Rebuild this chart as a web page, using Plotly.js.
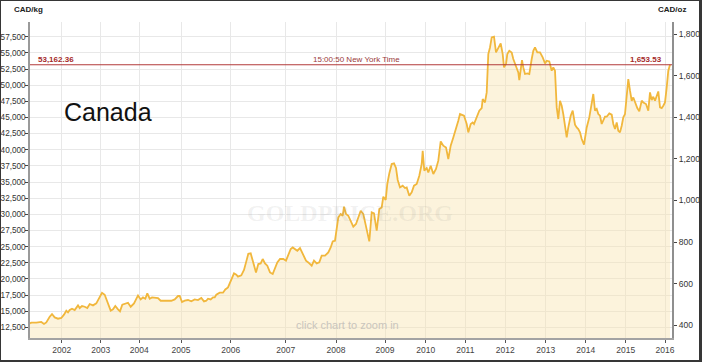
<!DOCTYPE html>
<html>
<head>
<meta charset="utf-8">
<script src="https://cdn.plot.ly/plotly-3.0.1.min.js"></script>
<style>
  html, body { margin:0; padding:0; background:#fff; }
  #wrap { position:relative; width:702px; height:362px; overflow:hidden; }
  #chart { width:702px; height:362px; }
  #frame { position:absolute; left:0; top:0; width:702px; height:362px; box-sizing:border-box;
           border-style:solid; border-color:#363636; border-width:1px 3px 2px 1px; pointer-events:none; }
</style>
</head>
<body>
<div id="wrap"><div id="chart"></div><div id="frame"></div></div>
<script>
// ---- Data ----
// Ordinal position along the chart's ordinal time axis (Highstock-style) and gold price, CAD per kg
const ordinalPos = [0,1.3,6.3,11.3,14,16.3,19.7,22,24.7,28,31.3,34,36.3,38,39.7,42,44.7,48,49.7,52,54.7,57.3,59.7,63,66.3,69.7,72,74.7,77.3,80.7,83,85.3,88,90,92.3,95.3,98,100.7,104,108,110.7,113,115.3,117.3,119.7,122,124.7,128,130.7,134.7,138,141.3,144.7,148,149.7,152,154.7,158,161.3,164.7,168,171.3,174,176.3,178,180.7,183,184.7,186.3,189.7,193,195.3,198,201.3,204,206.3,208,211.3,214,216.3,218.3,220.7,223.3,226,228.3,230.7,232.7,235,237.3,240,242.7,245,247.3,250,253.3,256,258.3,260.7,262.7,265,267.3,270,272.7,276,278.3,281.7,284,286.7,289.3,291.7,295,298.3,300.7,302.7,305,306.7,308.3,310.7,312.7,314,316,318.3,320.7,323.3,326,328.3,330.7,333.3,336,339.3,341.7,344,346.7,349.3,351.7,353.3,355.7,357.3,359.3,361.7,364,366,367.7,370,372.7,375,376.7,379.3,381.7,384,386.7,389.3,391.7,392.7,394.3,396.7,398.3,400.7,403.3,406,408.3,410.7,413.3,416,418.3,420.7,423.3,426,428.3,430,431.7,434,436.7,438.3,440.7,442.7,444,446.7,449.3,451.7,452.7,455,456.7,458.3,460,461.7,464,466,468.3,470.7,472.7,474,476,477.3,479.3,481.7,483.3,486,488.3,489.3,490.7,492,493.3,495,497.3,499.3,501.7,503.3,505,507.3,510,512.7,515,516.7,519.3,521.7,523.3,525,526.7,528.3,530,531.7,533.3,535,536.7,538.3,540.7,542.7,545,546.7,548.3,550,551.7,554,555,556.7,559.3,561.7,563.3,565,566.7,568.3,570,571.7,573.3,575,576.7,579.3,581.7,583.3,585,586.7,588.3,590,591.7,593.3,595,596.7,598.3,600,601.7,603.3,605,607.3,609.3,611.7,613.3,616,618.3,620,621.7,623.3,625,626.7,628.3,630,631.7,633.3,635,636.7,638.3,640];
const cadPerKg = [13120,13230,13230,13340,13030,13270,14160,14570,14050,13850,13960,14470,15090,14820,15190,15400,15190,15910,15500,15810,15700,15500,16120,15910,16220,17140,17870,17560,16530,15090,15290,15810,15290,14980,16010,16220,16320,15700,16220,17450,16830,17140,16940,17760,16940,17140,17140,17050,16630,16630,16740,16630,16830,17360,17360,16430,16630,16740,16530,16830,16740,17050,16530,16630,16940,16830,17140,17140,17560,17870,17870,18380,18690,19930,20860,20660,20350,20550,21390,22720,23900,23960,22560,21010,22310,22410,23090,22410,22050,21010,20770,21540,22560,23090,23090,22830,23860,24640,24880,24640,24370,24790,23860,22830,22560,22050,22830,22410,22560,23600,23600,24110,24880,25810,25920,27980,29530,30050,29790,31180,30050,29790,29020,28090,28510,29530,30570,30050,27980,25810,30300,30150,27470,30830,31080,32730,32220,34700,36340,37790,37890,37180,35320,34170,34440,34080,34170,32890,33400,34440,34700,35980,37790,39850,36760,37180,36490,37530,36250,37020,38310,41290,40630,40360,38570,40630,41910,43210,44500,45530,45430,45270,43990,42690,43990,44230,43990,45010,46050,46460,47860,47330,48880,54820,55840,57390,57500,55070,55840,56460,54820,52750,53270,54820,55330,55070,54050,53010,51970,50800,52750,53890,52750,51730,51820,51730,54050,55330,55840,55070,55070,54300,53370,53790,53680,52240,52750,52240,46560,44760,47590,46820,45530,43990,41910,43460,45270,46050,43880,43460,43210,42690,41660,40780,41910,43460,45010,47330,48630,46050,46310,45530,45270,43990,44500,45120,45120,45630,45430,43990,43210,44230,42950,42690,43720,45010,45530,48100,50950,49140,47590,48100,47330,46460,45940,47590,47330,47080,46050,48880,47700,48210,47590,48370,49030,46560,46460,46820,47330,49650,52240,53162.36];
const yearLabels = ['2002','2003','2004','2005','2006','2007','2008','2009','2010','2011','2012','2013','2014','2015','2016'];
const yearTickOrdinal = [31.7,70.7,109.3,151,200.7,255.7,306,355,395.7,435.3,475.3,515.7,555.7,595.7,635];
const kgTickValues = [12500,15000,17500,20000,22500,25000,27500,30000,32500,35000,37500,40000,42500,45000,47500,50000,52500,55000,57500];
const OZ_PER_KG = 32.1507466;
const country = 'Canada';
const timeText = '15:00:50 New York Time';

// ---- Derived ----
const lastKg = cadPerKg[cadPerKg.length - 1];
const lastOz = lastKg / OZ_PER_KG;
const cadPerOz = cadPerKg.map(v => v / OZ_PER_KG);
const fmt2 = v => v.toLocaleString('en-US', {minimumFractionDigits:2, maximumFractionDigits:2});

const yRange = [10860, 59780];
const FONT = 'Liberation Sans, Arial, sans-serif';
const gridC = '#e8e8e8';

const traces = [
  {
    x: ordinalPos, y: cadPerKg, type: 'scatter', mode: 'lines',
    line: {color: '#f1b73c', width: 1.8, shape: 'linear'},
    fill: 'tozeroy', fillcolor: 'rgba(247,226,172,0.42)',
    hoverinfo: 'y', xaxis: 'x', yaxis: 'y'
  },
  {
    x: ordinalPos, y: cadPerOz, type: 'scatter', mode: 'lines',
    line: {width: 0, color: 'rgba(0,0,0,0)'}, hoverinfo: 'skip',
    xaxis: 'x', yaxis: 'y2'
  }
];

const layout = {
  width: 702, height: 362,
  margin: {l: 30, r: 30, t: 22, b: 24, pad: 0},
  paper_bgcolor: '#ffffff', plot_bgcolor: '#ffffff',
  showlegend: false,
  font: {family: FONT, size: 8.5, color: '#333'},
  xaxis: {
    range: [0, 642], tickmode: 'array', tickvals: yearTickOrdinal, ticktext: yearLabels,
    showgrid: true, gridcolor: gridC, gridwidth: 1, zeroline: false,
    showline: true, linecolor: '#a3a3a3', linewidth: 2,
    ticks: 'outside', ticklen: 3, tickwidth: 1, tickcolor: '#555',
    tickfont: {family: FONT, size: 8.5, color: '#444'}, fixedrange: true
  },
  yaxis: {
    range: yRange, tickmode: 'array', tickvals: kgTickValues, tickformat: ',d',
    showgrid: true, gridcolor: gridC, gridwidth: 1, zeroline: false,
    showline: true, linecolor: '#9a9a9a', linewidth: 1.5,
    ticks: 'outside', ticklen: 3, tickwidth: 1, tickcolor: '#444',
    ticklabelstandoff: -2,
    tickfont: {family: FONT, size: 8.2, color: '#333'}, fixedrange: true
  },
  yaxis2: {
    overlaying: 'y', side: 'right', range: yRange.map(v => v / OZ_PER_KG),
    tickmode: 'linear', tick0: 0, dtick: 200, tickformat: ',d',
    showgrid: false, zeroline: false,
    showline: true, linecolor: '#8f8f8f', linewidth: 2,
    ticks: 'outside', ticklen: 3, tickwidth: 1, tickcolor: '#444',
    tickfont: {family: FONT, size: 8.5, color: '#333'}, fixedrange: true
  },
  shapes: [
    {type: 'line', xref: 'paper', x0: 0, x1: 1, yref: 'y', y0: lastKg, y1: lastKg,
     line: {color: '#b23a3a', width: 1}}
  ],
  annotations: [
    {text: 'GOLDPRICE.ORG', xref: 'paper', yref: 'paper', x: 0.498, y: 0.396,
     xanchor: 'center', yanchor: 'middle', showarrow: false,
     font: {family: 'Liberation Serif, Times New Roman, serif', size: 24, color: 'rgba(120,120,120,0.10)', weight: 'bold'}},
    {text: 'click chart to zoom in', xref: 'paper', yref: 'paper', x: 0.495, y: 0.041,
     xanchor: 'center', yanchor: 'middle', showarrow: false,
     font: {family: FONT, size: 11, color: '#c9c5bd'}},
    {text: country, xref: 'paper', yref: 'paper', x: 0.0498, y: 0.715,
     xanchor: 'left', yanchor: 'middle', showarrow: false,
     font: {family: FONT, size: 25, color: '#111'}},
    {text: '<b>CAD/kg</b>', xref: 'paper', yref: 'paper', x: -0.003, y: 1.038,
     xanchor: 'center', yanchor: 'middle', showarrow: false,
     font: {family: FONT, size: 8, color: '#222'}},
    {text: '<b>CAD/oz</b>', xref: 'paper', yref: 'paper', x: 1.0, y: 1.038,
     xanchor: 'center', yanchor: 'middle', showarrow: false,
     font: {family: FONT, size: 8, color: '#222'}},
    {text: '<b>' + fmt2(lastKg) + '</b>', xref: 'paper', yref: 'y', x: 0.01, y: lastKg,
     xanchor: 'left', yanchor: 'middle', yshift: 5, showarrow: false,
     font: {family: FONT, size: 8, color: '#a52a2a'}},
    {text: timeText, xref: 'paper', yref: 'y', x: 0.509, y: lastKg,
     xanchor: 'center', yanchor: 'middle', yshift: 5, showarrow: false,
     font: {family: FONT, size: 8, color: '#9b3b3b'}},
    {text: '<b>' + fmt2(lastOz) + '</b>', xref: 'paper', yref: 'y', x: 0.9875, y: lastKg,
     xanchor: 'right', yanchor: 'middle', yshift: 5, showarrow: false,
     font: {family: FONT, size: 8, color: '#a52a2a'}}
  ]
};

Plotly.newPlot('chart', traces, layout, {displayModeBar: false, staticPlot: false});
</script>
</body>
</html>
